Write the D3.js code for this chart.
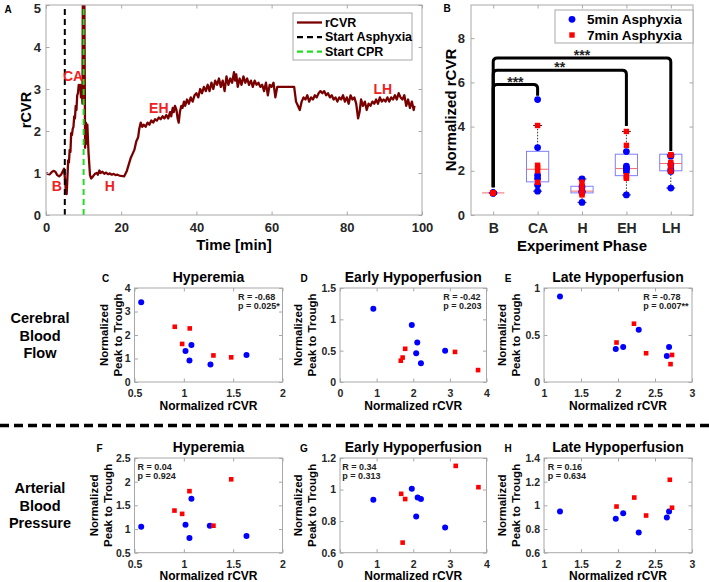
<!DOCTYPE html>
<html><head><meta charset="utf-8">
<script src="https://cdn.jsdelivr.net/npm/d3@7"></script>
<style>
body{margin:0;background:#fff;}
svg{font-family:"Liberation Sans",Arial,sans-serif;font-weight:bold;}
</style></head><body>
<svg id="c" width="709" height="582"></svg>
<script>
// ---------------- DATA ----------------
const timeMin = [0,0.5,1,1.5,2,2.5,3,3.5,4,4.5,4.8,5.1,5.3,5.5,5.7,5.9,6.1,6.3,6.5,6.7,6.9,7.1,7.3,7.5,7.7,7.9,8.1,8.3,8.5,8.7,8.9,9.1,9.3,9.5,9.7,9.8,10.0,10.2,10.4,10.6,10.8,11.0,11.3,11.7,12.0,12.5,13.0,13.5,13.8,14.2,14.5,15,15.5,16,16.5,17,17.5,18,18.5,19,19.5,20,20.8,21.5,22,22.5,23,23.5,24,24.5,24.8,25.2,25.6,26,26.5,27,27.5,28,28.5,29,29.5,30,30.5,31,31.5,32,32.5,33,33.3,33.7,34,34.3,34.7,35,35.3,35.6,36,36.3,36.7,37,37.5,38,38.5,39,39.5,40,40.5,41,41.5,42,42.5,43,43.5,44,44.5,45,45.5,46,46.5,47,47.5,48,48.5,49,49.5,50,50.3,50.6,51,51.5,52,52.5,53,53.5,54,54.5,55,55.5,56,56.5,57,57.5,58,58.5,59,59.5,60,60.5,61,61.5,62,66,66.5,67,67.5,68,68.5,69,69.5,70,70.5,71,71.5,72,72.5,73,73.5,74,74.5,75,75.5,76,76.5,77,77.5,78,78.5,79,79.5,80,80.5,81,81.5,82,82.5,83,83.4,83.8,84.3,84.8,85.3,85.8,86.3,86.8,87.3,87.8,88.3,88.8,89.3,89.8,90.3,90.8,91.3,91.8,92.3,92.8,93.3,93.8,94.3,94.8,95.3,95.8,96.3,96.8,97.3,97.8,98];
const rcvrVals = [1.0,0.98,0.97,1.02,1.05,1.03,0.95,0.92,0.96,1.05,1.1,0.8,0.55,0.5,0.9,1.3,1.25,1.55,1.5,1.95,1.9,2.05,2.1,2.35,2.3,2.6,2.5,2.85,2.9,3.1,3.0,3.1,2.8,3.05,2.65,5.2,5.2,5.2,1.6,2.2,1.7,2.15,1.5,0.95,0.87,0.92,0.98,1.0,0.96,1.06,1.0,1.03,0.98,1.01,0.97,0.99,0.96,0.98,0.95,0.96,0.94,0.93,0.92,1.05,1.2,1.35,1.45,1.55,1.75,1.85,2.05,2.2,2.1,2.15,2.1,2.2,2.15,2.25,2.2,2.28,2.25,2.32,2.28,2.35,2.3,2.38,2.3,2.45,2.35,2.55,2.45,2.6,2.5,2.3,2.2,2.45,2.6,2.55,2.7,2.6,2.75,2.65,2.8,2.7,2.85,2.9,2.8,3.0,2.9,3.05,2.95,3.1,2.95,3.15,3.0,3.2,3.1,3.25,3.05,3.2,2.95,3.3,3.1,3.25,3.15,3.4,3.2,3.35,3.05,3.25,3.1,3.3,3.15,3.25,3.1,3.2,3.05,3.2,3.1,3.15,3.05,3.1,2.95,3.15,2.85,3.1,3.05,3.15,2.8,3.05,3.05,3.05,2.7,2.6,2.5,2.7,2.8,2.75,2.85,2.7,2.8,2.75,2.85,2.8,2.9,2.95,2.9,2.95,2.85,2.9,2.8,2.85,2.75,2.8,2.7,2.8,2.75,2.85,2.7,2.8,2.65,2.85,2.75,2.8,2.65,2.3,2.45,2.75,2.6,2.7,2.5,2.65,2.6,2.7,2.65,2.75,2.65,2.8,2.7,2.75,2.7,2.8,2.7,2.8,2.75,2.85,2.75,2.9,2.8,2.75,2.85,2.6,2.75,2.55,2.7,2.5,2.6];
const asphyxiaStart = 5, cprStart = 10;
const phaseMarks = [["B",2.9,0.69],["CA",7.2,3.3],["H",17,0.69],["EH",30,2.55],["LH",89.6,3.0]];

const phases = ["B","CA","H","EH","LH"];
const phase5min = [[1,1,1,1,1,1],[5.22,3.05,1.8,1.65,1.36,1.08],[0.57,1.08,1.02,1.06,1.27,1.63],[0.91,1.96,2.08,2.12,2.21,2.87],[1.22,1.97,2.07,2.28,2.66,2.69]];
const phase7min = [[1,1,1,1,1],[4.05,2.25,2.15,2.0,1.48],[0.91,1.06,0.98,1.30,1.48],[1.66,1.71,1.78,3.15,3.78],[1.98,2.22,2.38,2.71,2.73]];
const boxQ1  = [1,1.50,1.00,1.78,2.00];
const boxMed = [1,2.07,1.08,2.10,2.33];
const boxQ3  = [1,2.88,1.30,2.75,2.75];
const whiskLo = [1,1.08,0.57,0.91,1.22];
const whiskHi = [1,4.05,1.63,3.78,2.73];
const sigPairs = [[1,2,5.9,1.26,5.4,"***"],[1,4,6.55,1.26,4.03,"**"],[1,5,7.1,1.26,2.9,"***"]];

// scatter panels
const cX5=[0.568,1.077,1.017,1.057,1.27,1.635], cY5=[3.39,1.57,1.32,0.91,0.75,1.15];
const cX7=[0.908,1.06,0.983,1.30,1.48], cY7=[2.35,2.28,1.62,1.13,1.05];
const dX5=[0.91,1.96,2.11,2.08,2.21,2.87], dY5=[1.17,0.91,0.63,0.46,0.30,0.50];
const dX7=[1.78,1.71,1.66,3.14,3.77], dY7=[0.53,0.39,0.34,0.48,0.19];
const eX5=[1.216,2.28,1.97,2.07,2.69,2.66], eY5=[0.91,0.555,0.35,0.373,0.373,0.277];
const eX7=[2.216,1.98,2.38,2.73,2.71], eY7=[0.62,0.42,0.306,0.288,0.19];
const fX5=[0.568,1.077,1.017,1.057,1.263,1.635], fY5=[1.05,1.64,1.09,0.81,1.07,0.855];
const fX7=[0.905,0.983,1.057,1.30,1.48], fY7=[1.39,1.32,1.80,1.07,2.05];
const gX5=[0.91,1.96,2.12,2.21,2.08,2.87], gY5=[0.935,1.005,0.95,0.94,0.83,0.76];
const gX7=[1.67,1.78,1.71,3.16,3.78], gY7=[0.973,0.94,0.664,1.15,1.015];
const hX5=[1.216,1.97,2.07,2.28,2.66,2.69], hY5=[0.947,0.886,0.934,0.77,0.897,0.947];
const hX7=[1.98,2.22,2.38,2.70,2.73], hY7=[0.99,1.066,0.914,1.216,0.98];
const stats = [["R = -0.68","p = 0.025*"],["R = -0.42","p = 0.203"],["R = -0.78","p = 0.007**"],["R = 0.04","p = 0.924"],["R = 0.34","p = 0.313"],["R = 0.16","p = 0.634"]];

// ---------------- DRAW ----------------
const svg = d3.select("#c");
const AXC = "#a8a8a8", TXT = "#262626";
const numFmt = d3.format("~g");

function frame(x, y, xt, yt, o) {
  const [x0,x1] = x.range(), [y0,y1] = y.range();
  const g = svg.append("g");
  const tl = 3.5;
  const style = (sel, fs) => {
    sel.select(".domain").remove();
    sel.selectAll(".tick line").attr("stroke", AXC);
    sel.selectAll(".tick text").attr("fill", TXT).attr("font-size", fs).attr("font-weight","bold")
      .attr("font-family","'Liberation Sans', Arial, sans-serif");
  };
  const fmt = o.fmt || numFmt;
  g.append("g").attr("transform",`translate(0,${y0})`)
    .call(d3.axisBottom(x).tickValues(xt).tickSizeInner(-tl).tickSizeOuter(0).tickPadding(o.xpad).tickFormat(fmt))
    .call(s=>style(s,o.xfs));
  g.append("g").attr("transform",`translate(0,${y1})`)
    .call(d3.axisTop(x).tickValues(xt).tickSizeInner(-tl).tickSizeOuter(0).tickFormat(""))
    .call(s=>style(s,o.xfs));
  const left = g.append("g").attr("transform",`translate(${x0},0)`)
    .call(d3.axisLeft(y).tickValues(yt).tickSizeInner(-tl).tickSizeOuter(0).tickPadding(o.ypad).tickFormat(numFmt))
    .call(s=>style(s,o.yfs));
  if (o.topNudge) left.selectAll(".tick text").filter(d=>d===yt[yt.length-1]).attr("dy", o.topNudge);
  g.append("g").attr("transform",`translate(${x1},0)`)
    .call(d3.axisRight(y).tickValues(yt).tickSizeInner(-tl).tickSizeOuter(0).tickFormat(""))
    .call(s=>style(s,o.yfs));
  g.append("rect").attr("x",x0).attr("y",y1).attr("width",x1-x0).attr("height",y0-y1)
    .attr("fill","none").attr("stroke",AXC).attr("stroke-width",1);
  return g;
}
function txt(x,y,s,fs,opt={}) {
  const t = svg.append("text").attr("x",x).attr("y",y).text(s).attr("font-size",fs)
    .attr("text-anchor",opt.anchor||"middle").attr("fill",opt.fill||"#000").attr("font-weight","bold");
  if (opt.rot) t.attr("transform",`rotate(-90,${x},${y})`);
  if (opt.dy) t.attr("dy",opt.dy);
  return t;
}

// ---- Panel A ----
const xA = d3.scaleLinear([0,100],[46,422]);
const yA = d3.scaleLinear([0,5],[215,5]);
svg.append("clipPath").attr("id","clipA").append("rect").attr("x",46).attr("y",5).attr("width",376).attr("height",210);
const gA = svg.append("g").attr("clip-path","url(#clipA)");
gA.append("path").datum(timeMin.map((t,i)=>[t,rcvrVals[i]]))
  .attr("d", d3.line().x(d=>xA(d[0])).y(d=>yA(d[1])))
  .attr("fill","none").attr("stroke","#7a0000").attr("stroke-width",2.3).attr("stroke-linejoin","round");
gA.append("line").attr("x1",xA(asphyxiaStart)).attr("x2",xA(asphyxiaStart)).attr("y1",yA(0)).attr("y2",yA(5))
  .attr("stroke","#000").attr("stroke-width",2).attr("stroke-dasharray","6,4");
gA.append("line").attr("x1",xA(cprStart)).attr("x2",xA(cprStart)).attr("y1",yA(0)).attr("y2",yA(5))
  .attr("stroke","#22dd22").attr("stroke-width",2).attr("stroke-dasharray","6,4");
frame(xA,yA,[0,20,40,60,80,100],[0,1,2,3,4,5],{xpad:8,ypad:5,xfs:13,yfs:13,topNudge:"0.55em"});
phaseMarks.forEach(p=>txt(xA(p[1]),yA(p[2]),p[0],14,{fill:"#ee2222",dy:"0.35em"}));
txt(234,250,"Time [min]",15);
txt(26,110,"rCVR",14.5,{rot:true,dy:"0.35em"});
txt(8,9,"A",10,{dy:"0.35em"});
// legend A
svg.append("rect").attr("x",293).attr("y",13).attr("width",119).attr("height",47).attr("fill","#fff").attr("stroke",AXC);
[["rCVR","#7a0000",null],["Start Asphyxia","#000","6,4"],["Start CPR","#22dd22","6,4"]].forEach((l,i)=>{
  const yy = 22.5+i*14.6;
  svg.append("line").attr("x1",297).attr("x2",322).attr("y1",yy).attr("y2",yy).attr("stroke",l[1]).attr("stroke-width",2.3).attr("stroke-dasharray",l[2]);
  txt(325,yy,l[0],12.5,{anchor:"start",dy:"0.35em"});
});

// ---- Panel B ----
const xB = d3.scaleLinear([0.5,5.5],[471,693]);
const yB = d3.scaleLinear([0,9.5],[215,5]);
frame(xB,yB,[1,2,3,4,5],[0,2,4,6,8],{xpad:8,ypad:6,xfs:14,yfs:13,fmt:d=>phases[d-1]});
phases.forEach((p,i)=>{
  const c = i+1, hw = 0.25, cw = 0.1;
  const g = svg.append("g");
  [[whiskLo[i],boxQ1[i]],[boxQ3[i],whiskHi[i]]].forEach(w=>{
    g.append("line").attr("x1",xB(c)).attr("x2",xB(c)).attr("y1",yB(w[0])).attr("y2",yB(w[1]))
      .attr("stroke","#333").attr("stroke-width",1).attr("stroke-dasharray","1.5,1.5");
  });
  [whiskLo[i],whiskHi[i]].forEach(v=>g.append("line").attr("x1",xB(c-cw)).attr("x2",xB(c+cw)).attr("y1",yB(v)).attr("y2",yB(v)).attr("stroke","#222").attr("stroke-width",1));
  g.append("rect").attr("x",xB(c-hw)).attr("y",yB(boxQ3[i])).attr("width",xB(c+hw)-xB(c-hw)).attr("height",yB(boxQ1[i])-yB(boxQ3[i]))
    .attr("fill","none").attr("stroke","#7f7fff").attr("stroke-width",1);
  g.append("line").attr("x1",xB(c-hw)).attr("x2",xB(c+hw)).attr("y1",yB(boxMed[i])).attr("y2",yB(boxMed[i])).attr("stroke","#f46a6a").attr("stroke-width",1);
  phase5min[i].forEach(v=>g.append("circle").attr("cx",xB(c)).attr("cy",yB(v)).attr("r",3.4).attr("fill","#0000ff"));
  phase7min[i].forEach(v=>g.append("rect").attr("x",xB(c)-2.7).attr("y",yB(v)-2.7).attr("width",5.4).attr("height",5.4).attr("fill","#ff0000"));
});
sigPairs.forEach(s=>{
  const xa=xB(s[0]), xb=xB(s[1]), yl=yB(s[2]), r=4;
  const p = `M${xa},${yB(s[3])} L${xa},${yl+r} Q${xa},${yl} ${xa+r},${yl} L${xb-r},${yl} Q${xb},${yl} ${xb},${yl+r} L${xb},${yB(s[4])}`;
  svg.append("path").attr("d",p).attr("fill","none").attr("stroke","#000").attr("stroke-width",3);
  txt((xa+xb)/2,yl+2,s[5],14,{fill:"#222"});
});
txt(582,251,"Experiment Phase",15);
txt(451,110,"Normalized rCVR",15,{rot:true,dy:"0.35em"});
txt(447,8,"B",10,{dy:"0.35em"});
svg.append("rect").attr("x",555).attr("y",10).attr("width",138).attr("height",33).attr("fill","#fff").attr("stroke",AXC);
svg.append("circle").attr("cx",572).attr("cy",19.3).attr("r",3.4).attr("fill","#0000ff");
svg.append("rect").attr("x",569.3).attr("y",32.3).attr("width",5.4).attr("height",5.4).attr("fill","#ff0000");
txt(587,19.3,"5min Asphyxia",13.5,{anchor:"start",dy:"0.35em"});
txt(587,35,"7min Asphyxia",13.5,{anchor:"start",dy:"0.35em"});

// ---- Scatter panels ----
const panels = [
  {L:"C",t:"Hyperemia",xd:[0.5,2],xr:[134.5,282.5],yd:[0,4],yr:[382,288],xt:[0.5,1,1.5,2],yt:[0,1,2,3,4],x5:cX5,y5:cY5,x7:cX7,y7:cY7,st:0,sx:0.70,yl:[-31,-17]},
  {L:"D",t:"Early Hypoperfusion",xd:[0,4],xr:[340,486.5],yd:[0,1.5],yr:[382,288],xt:[0,1,2,3,4],yt:[0,0.5,1,1.5],x5:dX5,y5:dY5,x7:dX7,y7:dY7,st:1,sx:0.705,yl:[-42,-28]},
  {L:"E",t:"Late Hypoperfusion",xd:[1,3],xr:[544,692],yd:[0,1],yr:[382,288],xt:[1,1.5,2,2.5,3],yt:[0,0.5,1],x5:eX5,y5:eY5,x7:eX7,y7:eY7,st:2,sx:0.67,yl:[-42,-28]},
  {L:"F",t:"Hyperemia",xd:[0.5,2],xr:[134.5,282.5],yd:[0.5,2.5],yr:[552.7,458],xt:[0.5,1,1.5,2],yt:[0.5,1,1.5,2,2.5],x5:fX5,y5:fY5,x7:fX7,y7:fY7,st:3,sx:0.02,yl:[-41,-27]},
  {L:"G",t:"Early Hypoperfusion",xd:[0,4],xr:[340,486.5],yd:[0.6,1.2],yr:[552.7,458],xt:[0,1,2,3,4],yt:[0.6,0.8,1,1.2],x5:gX5,y5:gY5,x7:gX7,y7:gY7,st:4,sx:0.015,yl:[-42,-28]},
  {L:"H",t:"Late Hypoperfusion",xd:[1,3],xr:[544,692],yd:[0.6,1.4],yr:[552.7,458],xt:[1,1.5,2,2.5,3],yt:[0.6,0.8,1,1.2,1.4],x5:hX5,y5:hY5,x7:hX7,y7:hY7,st:5,sx:0.025,yl:[-42,-28]}
];
panels.forEach(P=>{
  const x = d3.scaleLinear(P.xd,P.xr), y = d3.scaleLinear(P.yd,P.yr);
  frame(x,y,P.xt,P.yt,{xpad:7.5,ypad:4,xfs:10.5,yfs:10.5});
  const g = svg.append("g");
  P.x5.forEach((v,i)=>g.append("circle").attr("cx",x(v)).attr("cy",y(P.y5[i])).attr("r",3).attr("fill","#0000ff"));
  P.x7.forEach((v,i)=>g.append("rect").attr("x",x(v)-2.3).attr("y",y(P.y7[i])-2.3).attr("width",4.6).attr("height",4.6).attr("fill","#ff0000"));
  const [x0,x1] = P.xr, top = P.yr[1], bot = P.yr[0];
  const sx = x0 + P.sx*(x1-x0);
  txt(sx,top+12,stats[P.st][0],9,{anchor:"start",fill:"#222"});
  txt(sx,top+21,stats[P.st][1],9,{anchor:"start",fill:"#222"});
  txt((x0+x1)/2,top-6.5,P.t,14);
  txt((x0+x1)/2,bot+27.5,"Normalized rCVR",12);
  const cy=(top+bot)/2;
  txt(x0+P.yl[0],cy,"Normalized",11.5,{rot:true,dy:"0.35em"});
  txt(x0+P.yl[1],cy,"Peak to Trough",11.5,{rot:true,dy:"0.35em"});
  txt(x0+P.yl[0]+(P.L==="C"?2:6),top-9.5,P.L,10,{dy:"0.35em"});
});

// row labels and separator
["Cerebral","Blood","Flow"].forEach((s,i)=>txt(40,318+i*17.5,s,14.5,{dy:"0.35em"}));
["Arterial","Blood","Pressure"].forEach((s,i)=>txt(40,488+i*17.5,s,14.5,{dy:"0.35em"}));
svg.append("line").attr("x1",0).attr("x2",709).attr("y1",425.5).attr("y2",425.5)
  .attr("stroke","#000").attr("stroke-width",3.5).attr("stroke-dasharray","9,5");
</script>
</body></html>
